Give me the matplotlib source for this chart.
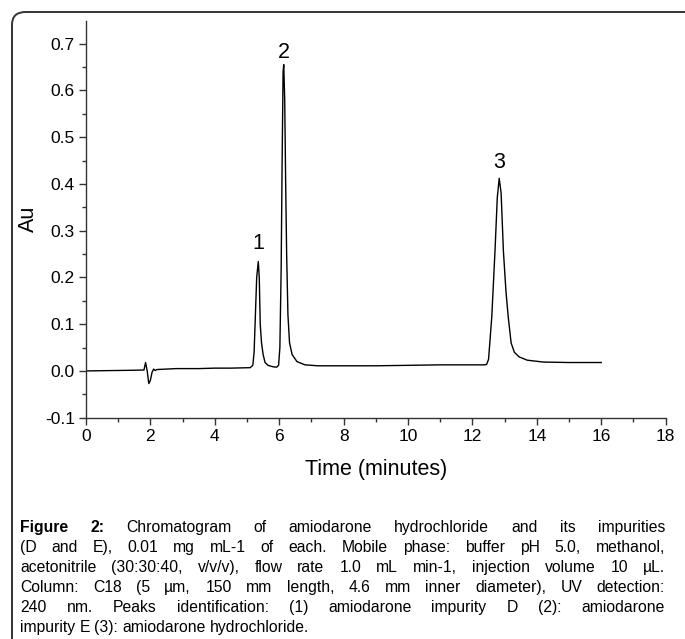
import numpy as np
import matplotlib.pyplot as plt
from matplotlib.patches import FancyBboxPatch
from matplotlib.ticker import MultipleLocator

tempo = [0.0, 0.5, 1.0, 1.5, 1.8, 1.85, 1.9, 1.95, 2.0, 2.05, 2.1, 2.15, 2.2,
         2.8, 3.5, 4.0, 4.5, 5.1, 5.18, 5.22, 5.26, 5.3, 5.35, 5.38, 5.41,
         5.45, 5.5, 5.56, 5.65, 5.8, 5.92, 5.98, 6.02, 6.06, 6.09, 6.12, 6.14,
         6.17, 6.2, 6.23, 6.27, 6.32, 6.4, 6.55, 6.8, 7.2, 8.0, 9.0, 10.0,
         11.0, 12.0, 12.38, 12.44, 12.5, 12.6, 12.7, 12.77, 12.83, 12.89,
         12.96, 13.04, 13.11, 13.2, 13.3, 13.45, 13.7, 14.2, 15.0, 16.0]
absorb = [0.0, 0.0005, 0.001, 0.0015, 0.002, 0.018, 0.0, -0.027, -0.02,
          -0.003, 0.004, 0.001, 0.003, 0.005, 0.005, 0.006, 0.006, 0.007,
          0.012, 0.04, 0.12, 0.2, 0.234, 0.2, 0.1, 0.06, 0.035, 0.018, 0.012,
          0.009, 0.008, 0.012, 0.05, 0.22, 0.45, 0.64, 0.655, 0.58, 0.4, 0.25,
          0.12, 0.06, 0.035, 0.02, 0.013, 0.011, 0.011, 0.011, 0.012, 0.013,
          0.013, 0.013, 0.014, 0.025, 0.116, 0.257, 0.37, 0.412, 0.38, 0.257,
          0.17, 0.116, 0.06, 0.04, 0.03, 0.023, 0.019, 0.018, 0.018]

picos = ['1', '2', '3']
pico_x = [5.35, 6.14, 12.83]
pico_y = [0.272, 0.68, 0.445]

legenda = [
    "Figure 2: Chromatogram of amiodarone hydrochloride and its impurities",
    "(D and E), 0.01 mg mL-1 of each. Mobile phase: buffer pH 5.0, methanol,",
    "acetonitrile (30:30:40, v/v/v), flow rate 1.0 mL min-1, injection volume 10 µL.",
    "Column: C18 (5 µm, 150 mm length, 4.6 mm inner diameter), UV detection:",
    "240 nm. Peaks identification: (1) amiodarone impurity D (2): amiodarone",
    "impurity E (3): amiodarone hydrochloride.",
]

plt.rcParams['font.family'] = ['Liberation Sans', 'DejaVu Sans']

W, H = 685, 639
fig = plt.figure(figsize=(W / 100, H / 100), dpi=100)

# moldura arredondada (sai pela direita/baixo)
moldura = FancyBboxPatch((12 / W, -20 / H), 700 / W, (H - 12 + 20) / H,
                         boxstyle="round,pad=0,rounding_size=0.02",
                         transform=fig.transFigure, fill=False,
                         edgecolor='#333333', linewidth=1.4)
fig.patches.append(moldura)

ax = fig.add_axes([86 / W, 1 - 417.7 / H, (665.7 - 86) / W, (417.7 - 20.7) / H])
ax.plot(tempo, absorb, color='black', linewidth=1.0)

for rotulo, px, py in zip(picos, pico_x, pico_y):
    ax.text(px, py, rotulo, ha='center', va='center', fontsize=15.5)

ax.set_xlim(0, 18)
ax.set_ylim(-0.1, 0.749)
ax.xaxis.set_major_locator(MultipleLocator(2))
ax.xaxis.set_minor_locator(MultipleLocator(1))
ax.yaxis.set_minor_locator(MultipleLocator(0.05))
ax.set_yticks(np.arange(-0.1, 0.71, 0.1))
ax.set_yticklabels(['%.1f' % v for v in np.arange(-0.1, 0.71, 0.1)])
ax.spines['top'].set_visible(False)
ax.spines['right'].set_visible(False)
for s in ['left', 'bottom']:
    ax.spines[s].set_color('#333333')
    ax.spines[s].set_linewidth(1.0)
ax.tick_params(which='major', direction='out', length=5, width=1,
               labelsize=12.5, color='#333333', pad=3)
ax.tick_params(which='minor', direction='out', length=3, width=1,
               color='#333333')
ax.set_xlabel('Time (minutes)', fontsize=15.5, labelpad=11)
ax.set_ylabel('Au', fontsize=15.5, labelpad=4)

# legenda justificada
fig.canvas.draw()
renderer = fig.canvas.get_renderer()
x_esq, x_dir = 20, 665
y0, passo = 532, 20
tam = 11.3
for i, linha in enumerate(legenda):
    palavras = linha.split(' ')
    textos = []
    for j, p in enumerate(palavras):
        negrito = (i == 0 and j < 2)
        t = fig.text(0, 1 - (y0 + i * passo) / H, p, fontsize=tam,
                     va='baseline', ha='left',
                     fontweight='bold' if negrito else 'normal')
        textos.append(t)
    larg = [t.get_window_extent(renderer).width for t in textos]
    if i < len(legenda) - 1 and len(palavras) > 1:
        gap = (x_dir - x_esq - sum(larg)) / (len(palavras) - 1)
    else:
        gap = renderer.points_to_pixels(tam) * 0.28
    x = x_esq
    for t, w in zip(textos, larg):
        t.set_x(x / W)
        x += w + gap

fig.savefig('out.png', dpi=100)
